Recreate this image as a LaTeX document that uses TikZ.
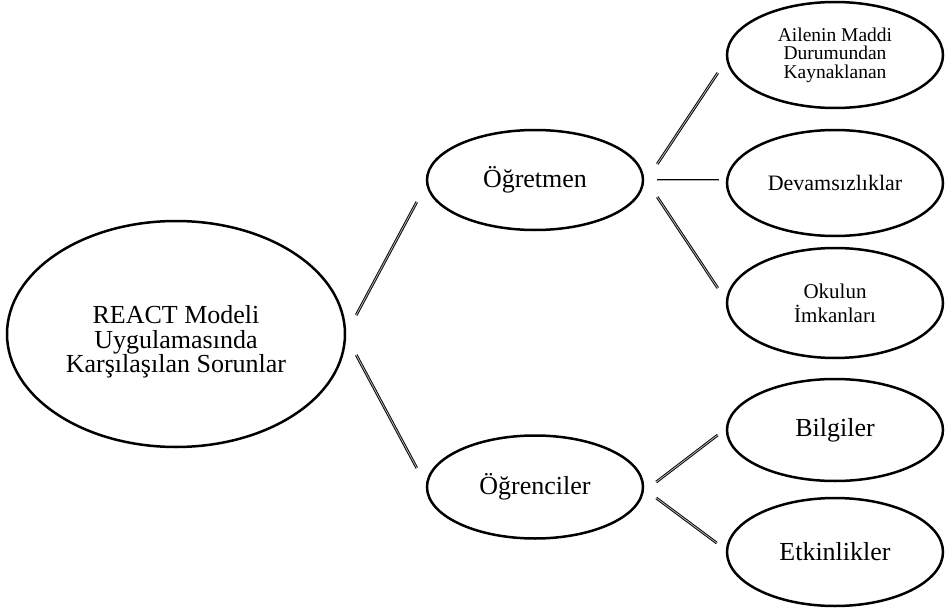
\documentclass[tikz,border=0pt]{standalone}
\usepackage{fontspec}
\setmainfont{Liberation Serif}
\usetikzlibrary{shapes.geometric}

\tikzset{
  oval/.style={ellipse, draw=black, line width=2.5pt, inner sep=0pt, align=center},
  conn/.style={draw=black, line width=0.9pt, double=gray!65, double distance=0.9pt}
}

\begin{document}
\begin{tikzpicture}[x=1pt, y=-1pt]
  \useasboundingbox (0,0) rectangle (946,610);

  % root
  \node[oval, minimum width=338pt, minimum height=226pt] (root) at (176,334) {};
  \node[align=center, inner sep=0pt, font=\fontsize{26}{24.5}\selectfont] (rootlabel) at (176,342)
        {REACT Modeli\\Uygulamasında\\Karşılaşılan Sorunlar};

  % second level
  \node[oval, minimum width=216pt, minimum height=100pt,
        font=\fontsize{26}{28}\selectfont] (teach) at (535,180) {Öğretmen};
  \node[oval, minimum width=216pt, minimum height=103pt,
        font=\fontsize{26}{28}\selectfont] (stud) at (535,487) {Öğrenciler};

  % third level
  \node[oval, minimum width=216pt, minimum height=106pt,
        font=\fontsize{19.5}{18.5}\selectfont] (fam) at (835,55)
        {Ailenin Maddi\\Durumundan\\Kaynaklanan};
  \node[oval, minimum width=216pt, minimum height=106pt,
        font=\fontsize{22}{24}\selectfont] (abs) at (835,183) {Devamsızlıklar};
  \node[oval, minimum width=216pt, minimum height=110pt,
        font=\fontsize{21}{24}\selectfont] (school) at (835,303)
        {Okulun\\İmkanları};
  \node[oval, minimum width=216pt, minimum height=102pt,
        font=\fontsize{26}{28}\selectfont] (know) at (835,430) {Bilgiler};
  \node[oval, minimum width=216pt, minimum height=108pt,
        font=\fontsize{26}{28}\selectfont] (act) at (835,552) {Etkinlikler};

  % connectors from the root
  \draw[conn] ([xshift=10pt, yshift=19pt]root.east) -- ([xshift=-9pt, yshift=-22pt]teach.west);
  \draw[conn] ([xshift=10pt, yshift=-21pt]root.east) -- ([xshift=-9pt, yshift=19pt]stud.west);

  % connectors from Öğretmen
  \draw[conn] ([xshift=13pt, yshift=16pt]teach.east) -- ([xshift=-8pt, yshift=-18pt]fam.west);
  \draw[conn] ([xshift=13pt]teach.east) -- ([xshift=-7pt, yshift=3pt]abs.west);
  \draw[conn] ([xshift=13pt, yshift=-17pt]teach.east) -- ([xshift=-8pt, yshift=15pt]school.west);

  % connectors from Öğrenciler
  \draw[conn] ([xshift=12pt, yshift=5pt]stud.east) -- ([xshift=-8pt, yshift=-5pt]know.west);
  \draw[conn] ([xshift=12pt, yshift=-11pt]stud.east) -- ([xshift=-9pt, yshift=9pt]act.west);
\end{tikzpicture}
\end{document}
